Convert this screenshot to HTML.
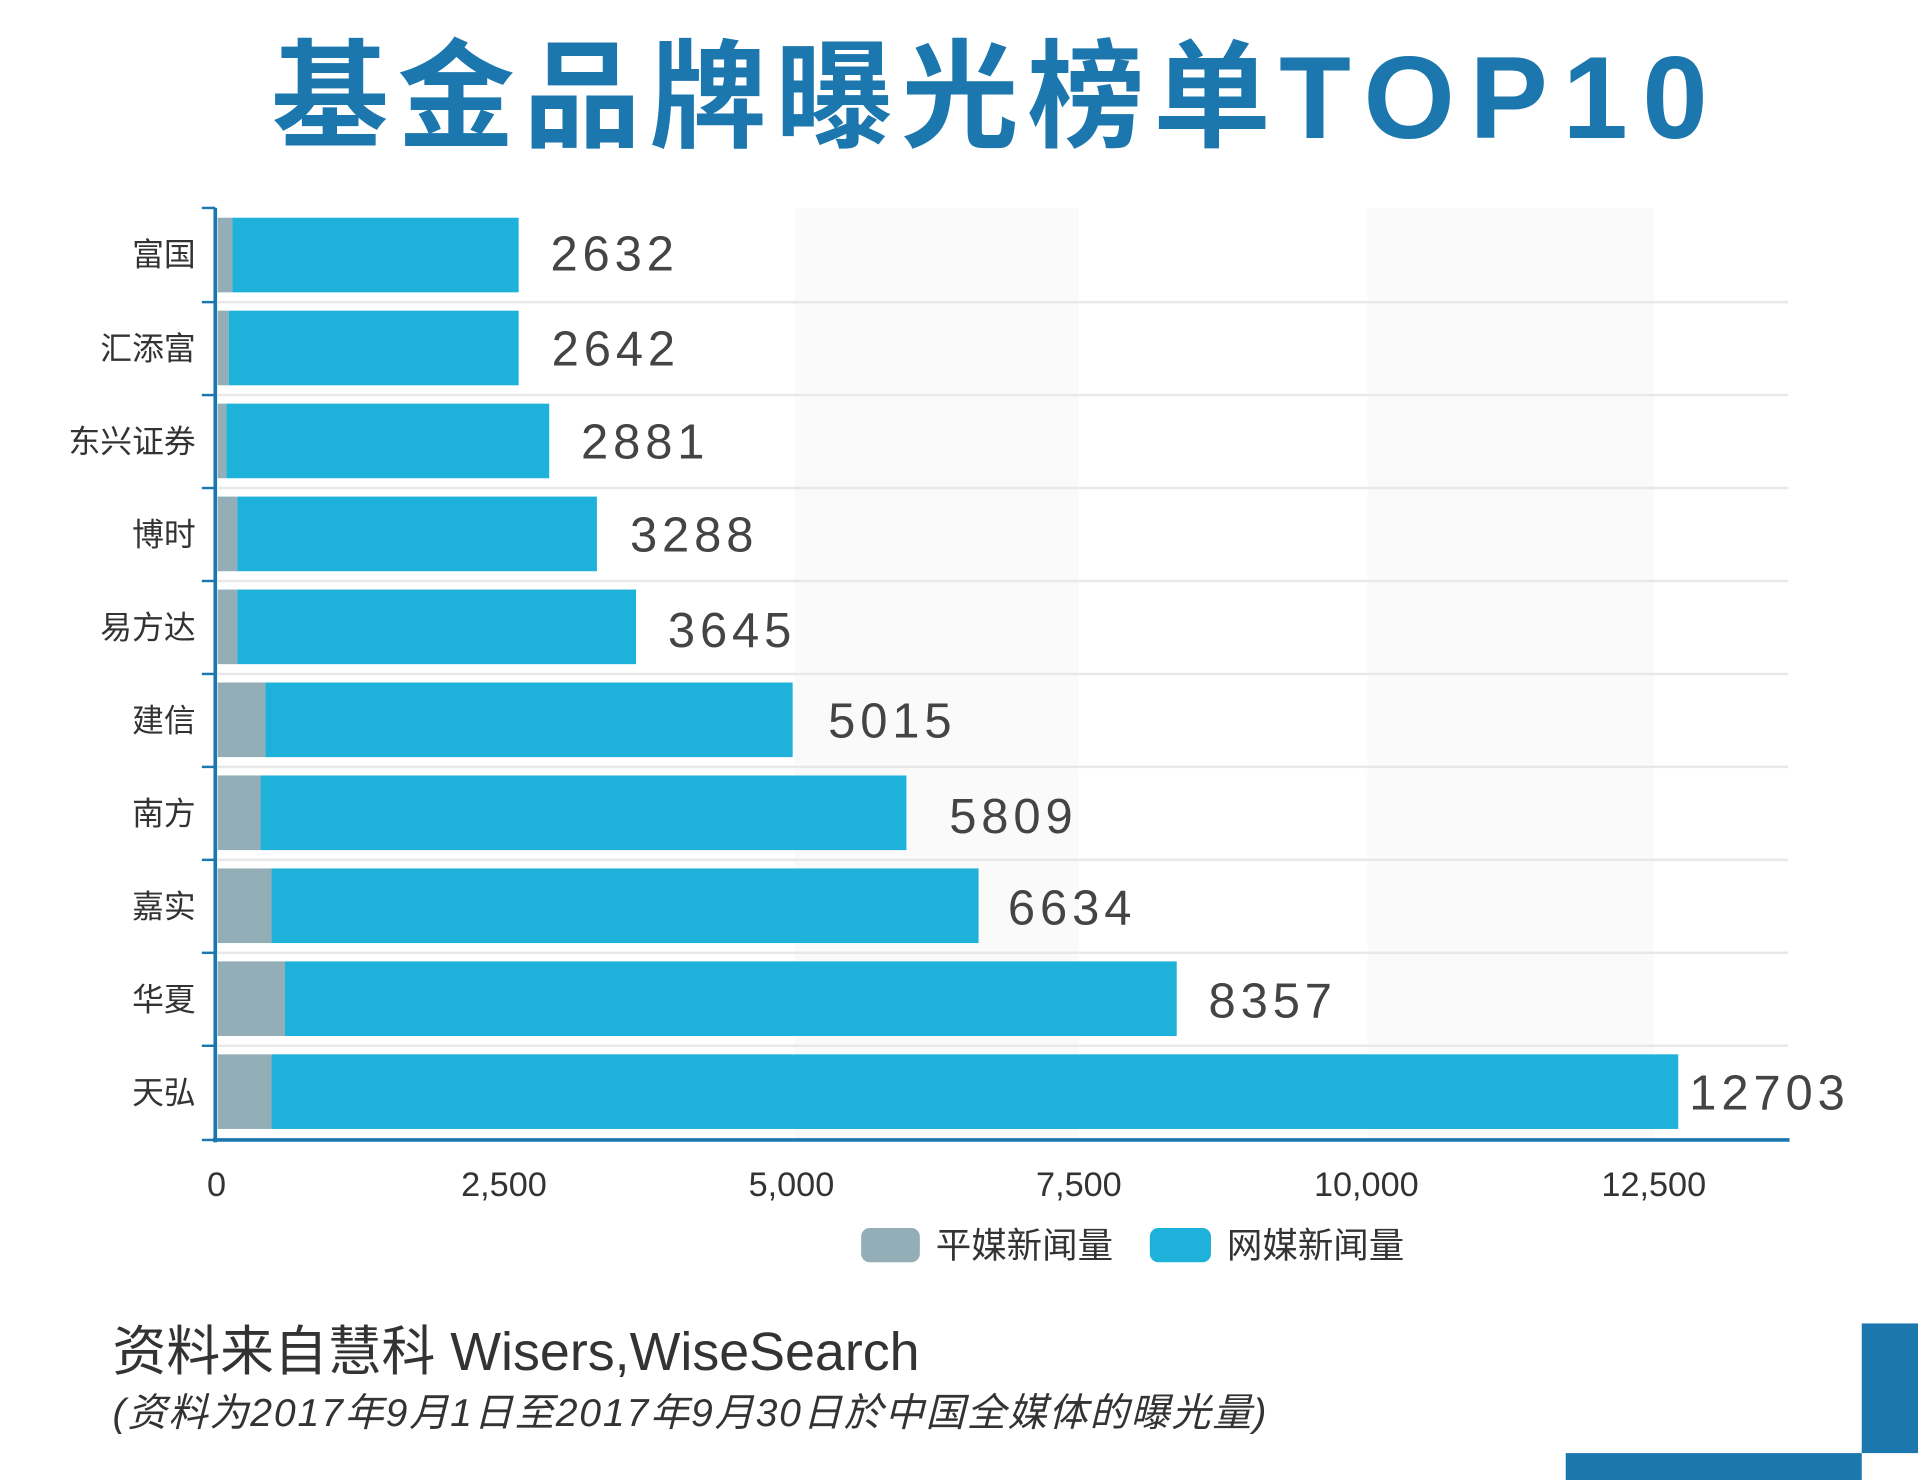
<!DOCTYPE html>
<html><head><meta charset="utf-8"><style>
html,body{margin:0;padding:0;background:#fff;}
svg{display:block;}
text{font-family:"Liberation Sans","Noto Sans CJK SC",sans-serif;}
</style></head><body>
<svg width="1918" height="1480" viewBox="0 0 1568 1210" preserveAspectRatio="none" xmlns="http://www.w3.org/2000/svg">
<rect width="1568" height="1210" fill="#fff"/>
<rect x="650" y="170" width="232" height="762" fill="#fafafb"/>
<rect x="1118" y="170" width="234" height="762" fill="#fafafb"/>
<text x="815" y="113" text-anchor="middle" font-size="96" font-weight="bold" fill="#1b77ad" letter-spacing="7">基金品牌曝光榜单<tspan letter-spacing="12">TOP10</tspan></text>
<g stroke="#e6e8ea" stroke-width="2">
<line x1="178" y1="247" x2="1462" y2="247"/><line x1="178" y1="323" x2="1462" y2="323"/>
<line x1="178" y1="399" x2="1462" y2="399"/><line x1="178" y1="475" x2="1462" y2="475"/>
<line x1="178" y1="551" x2="1462" y2="551"/><line x1="178" y1="627" x2="1462" y2="627"/>
<line x1="178" y1="703" x2="1462" y2="703"/><line x1="178" y1="779" x2="1462" y2="779"/>
<line x1="178" y1="855" x2="1462" y2="855"/>
</g>
<g>
<rect x="178" y="178" width="12" height="61" fill="#93aeb6"/><rect x="190" y="178" width="234" height="61" fill="#1eb1d9"/>
<rect x="178" y="254" width="9" height="61" fill="#93aeb6"/><rect x="187" y="254" width="237" height="61" fill="#1eb1d9"/>
<rect x="178" y="330" width="7" height="61" fill="#93aeb6"/><rect x="185" y="330" width="264" height="61" fill="#1eb1d9"/>
<rect x="178" y="406" width="16" height="61" fill="#93aeb6"/><rect x="194" y="406" width="294" height="61" fill="#1eb1d9"/>
<rect x="178" y="482" width="16" height="61" fill="#93aeb6"/><rect x="194" y="482" width="326" height="61" fill="#1eb1d9"/>
<rect x="178" y="558" width="39" height="61" fill="#93aeb6"/><rect x="217" y="558" width="431" height="61" fill="#1eb1d9"/>
<rect x="178" y="634" width="35" height="61" fill="#93aeb6"/><rect x="213" y="634" width="528" height="61" fill="#1eb1d9"/>
<rect x="178" y="710" width="44" height="61" fill="#93aeb6"/><rect x="222" y="710" width="578" height="61" fill="#1eb1d9"/>
<rect x="178" y="786" width="55" height="61" fill="#93aeb6"/><rect x="233" y="786" width="729" height="61" fill="#1eb1d9"/>
<rect x="178" y="862" width="44" height="61" fill="#93aeb6"/><rect x="222" y="862" width="1150" height="61" fill="#1eb1d9"/>
</g>
<g font-size="40" fill="#444" letter-spacing="4">
<text x="450" y="221">2632</text><text x="451" y="299">2642</text><text x="475" y="375">2881</text>
<text x="515" y="451">3288</text><text x="546" y="529">3645</text><text x="677" y="603">5015</text>
<text x="776" y="681">5809</text><text x="824" y="756">6634</text><text x="988" y="832">8357</text>
<text x="1381" y="907">12703</text>
</g>
<g font-size="26" fill="#333" text-anchor="end">
<text x="160" y="217">富国</text><text x="160" y="294">汇添富</text><text x="160" y="370">东兴证券</text>
<text x="160" y="446">博时</text><text x="160" y="522">易方达</text><text x="160" y="598">建信</text>
<text x="160" y="674">南方</text><text x="160" y="750">嘉实</text><text x="160" y="826">华夏</text>
<text x="160" y="902">天弘</text>
</g>
<line x1="176" y1="170" x2="176" y2="934" stroke="#1b77ad" stroke-width="3"/>
<line x1="174" y1="932" x2="1463" y2="932" stroke="#1b77ad" stroke-width="3"/>
<g stroke="#1b77ad" stroke-width="2">
<line x1="165" y1="170" x2="176" y2="170"/><line x1="165" y1="247" x2="176" y2="247"/><line x1="165" y1="323" x2="176" y2="323"/>
<line x1="165" y1="399" x2="176" y2="399"/><line x1="165" y1="475" x2="176" y2="475"/><line x1="165" y1="551" x2="176" y2="551"/>
<line x1="165" y1="627" x2="176" y2="627"/><line x1="165" y1="703" x2="176" y2="703"/><line x1="165" y1="779" x2="176" y2="779"/>
<line x1="165" y1="855" x2="176" y2="855"/><line x1="165" y1="932" x2="176" y2="932"/>
</g>
<g font-size="28" fill="#333" text-anchor="middle">
<text x="177" y="978">0</text><text x="412" y="978">2,500</text><text x="647" y="978">5,000</text>
<text x="882" y="978">7,500</text><text x="1117" y="978">10,000</text><text x="1352" y="978">12,500</text>
</g>
<rect x="704" y="1004" width="48" height="28" rx="7" fill="#93aeb6"/>
<text x="765" y="1028" font-size="29" fill="#333">平媒新闻量</text>
<rect x="940" y="1004" width="50" height="28" rx="7" fill="#1eb1d9"/>
<text x="1003" y="1028" font-size="29" fill="#333">网媒新闻量</text>
<text x="92" y="1120" font-size="44" fill="#333">资料来自慧科 Wisers,WiseSearch</text>
<text x="92" y="1166" font-size="32" fill="#333" font-style="italic" letter-spacing="1.5">(资料为2017年9月1日至2017年9月30日於中国全媒体的曝光量)</text>
<rect x="1522" y="1082" width="46" height="106" fill="#1b77ad"/>
<rect x="1280" y="1188" width="242" height="22" fill="#1b77ad"/>
</svg>
</body></html>
